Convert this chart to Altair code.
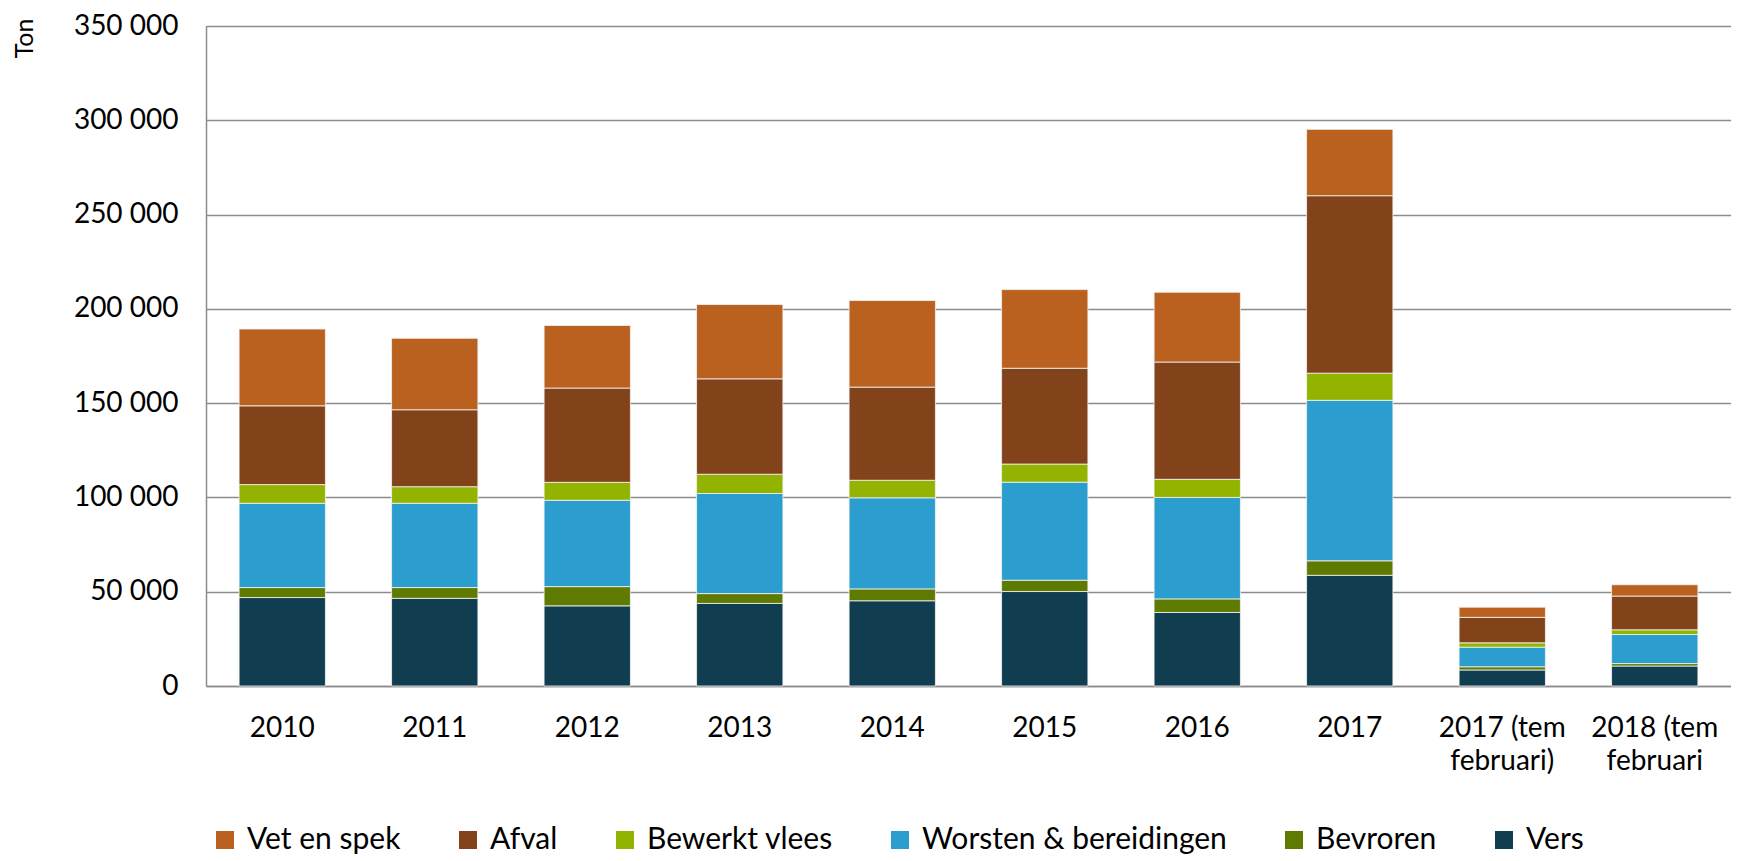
import altair as alt
import pandas as pd

categories = ["2010", "2011", "2012", "2013", "2014", "2015", "2016", "2017",
              "2017 (tem februari)", "2018 (tem februari"]
series = ["Vet en spek", "Afval", "Bewerkt vlees", "Worsten & bereidingen", "Bevroren", "Vers"]
colors = ["#BA6120", "#82431A", "#92B300", "#2C9DCF", "#5F7A00", "#113D51"]

vers = [46900, 46500, 42500, 43800, 45200, 50100, 39000, 58700, 8500, 10600]
bevroren = [5300, 5700, 10200, 5200, 6300, 6000, 7200, 7700, 1700, 1300]
worsten = [44700, 44700, 45800, 53100, 48300, 52000, 53800, 85100, 10400, 15400]
bewerkt = [9900, 8800, 9500, 10200, 9300, 9600, 9600, 14400, 2300, 2500]
afval = [41800, 40800, 50000, 50600, 49400, 50800, 62200, 94100, 13500, 17900]
vet = [40700, 37900, 33200, 39400, 45900, 41700, 37000, 35200, 5400, 6000]

values = {
    "Vers": vers,
    "Bevroren": bevroren,
    "Worsten & bereidingen": worsten,
    "Bewerkt vlees": bewerkt,
    "Afval": afval,
    "Vet en spek": vet,
}
stack_order = ["Vers", "Bevroren", "Worsten & bereidingen", "Bewerkt vlees", "Afval", "Vet en spek"]

rows = []
for s in stack_order:
    for c, v in zip(categories, values[s]):
        rows.append({"jaar": c, "soort": s, "ton": v, "ord": stack_order.index(s)})
df = pd.DataFrame(rows)

FONT = "Lato"
label_expr = ("indexof(datum.label, ' (tem ') > 0 ? "
              "[slice(datum.label, 0, indexof(datum.label, ' (tem ') + 5), "
              "slice(datum.label, indexof(datum.label, ' (tem ') + 6)] : datum.label")

chart = alt.Chart(df).mark_bar(stroke="#f4f4f4", strokeWidth=0.8).encode(
    x=alt.X("jaar:N", sort=categories, title=None,
            scale=alt.Scale(paddingInner=0.434, paddingOuter=0.217),
            axis=alt.Axis(labelAngle=0, labelExpr=label_expr, labelFont=FONT,
                          labelFontSize=28, labelColor="#000", labelPadding=28,
                          labelLineHeight=33,
                          ticks=False, domainColor="#8c8c8c",
                          domainWidth=1.5)),
    y=alt.Y("ton:Q", title="Ton", stack="zero",
            scale=alt.Scale(domain=[0, 350000], nice=False),
            axis=alt.Axis(values=list(range(0, 350001, 50000)),
                          labelExpr="replace(format(datum.value, ','), ',', ' ')",
                          labelFont=FONT, labelFontSize=28, labelColor="#000",
                          labelPadding=28, ticks=False, domainColor="#8c8c8c",
                          domainWidth=1.5, gridColor="#8c8c8c", gridWidth=1.5,
                          titleFont=FONT, titleFontSize=25, titleFontWeight="normal",
                          titleColor="#000", titleAngle=270, titleAlign="right",
                          titleBaseline="top", titleX=-194, titleY=-8)),
    color=alt.Color("soort:N",
                    scale=alt.Scale(domain=series, range=colors),
                    legend=alt.Legend(title=None, orient="none", direction="horizontal",
                                      columns=6, legendX=4, legendY=799,
                                      symbolType="square",
                                      symbolSize=324, symbolStrokeWidth=0,
                                      labelFont=FONT, labelFontSize=30, labelColor="#000",
                                      labelOffset=7, columnPadding=52, labelLimit=400)),
    order=alt.Order("ord:Q", sort="ascending"),
).properties(
    width=1525, height=660,
    autosize=alt.AutoSizeParams(type="none"),
    padding={"left": 198, "top": 18, "right": 0, "bottom": 170},
).configure_view(stroke=None).configure(background="white")

chart.save("out.html", embed_options={"renderer": "svg", "actions": False})
